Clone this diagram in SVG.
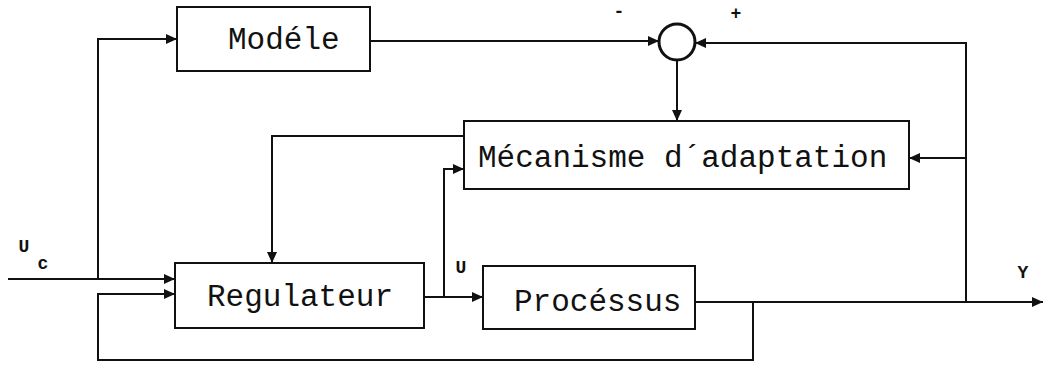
<svg xmlns="http://www.w3.org/2000/svg" width="1044" height="366" viewBox="0 0 1044 366">
<style>
.box{fill:none;stroke:#111;stroke-width:2}
.ln{fill:none;stroke:#111;stroke-width:2;marker-end:url(#ah)}
.t{font-family:"Liberation Mono","DejaVu Sans Mono",monospace;font-size:31px;fill:#111}
.lb{font-family:"Liberation Mono","DejaVu Sans Mono",monospace;font-size:18px;font-weight:bold;fill:#111}
</style>
<defs>
<marker id="ah" markerUnits="userSpaceOnUse" markerWidth="12" markerHeight="10" refX="11" refY="5" orient="auto">
<path d="M0,0 L11,5 L0,10 z" fill="#111"/>
</marker>
</defs>
<rect width="1044" height="366" fill="#fff"/>
<g id="connectors">
<path class="ln" d="M8,279 H175"/>
<path class="ln" d="M98,279 V39 H177"/>
<path class="ln" d="M370,41 H659"/>
<path class="ln" d="M966,302 V43 H695"/>
<path class="ln" d="M677,60 V121"/>
<path class="ln" d="M966,158 H909"/>
<path class="ln" d="M464,136 H272 V263"/>
<path class="ln" d="M424,297 H483"/>
<path class="ln" d="M444,297 V169 H464"/>
<path class="ln" d="M695,302 H1043"/>
<path class="ln" d="M753,302 V360 H98 V294 H175"/>
</g>
<g id="modele">
<rect class="box" x="177" y="7" width="193" height="64"/>
<text class="t" x="228" y="49">Modéle</text>
</g>
<g id="comparateur">
<circle cx="677" cy="42" r="18" fill="#fff" stroke="#111" stroke-width="3"/>
<text class="lb" x="619" y="17" text-anchor="middle">-</text>
<text class="lb" x="736" y="19" text-anchor="middle">+</text>
</g>
<g id="mecanisme">
<rect class="box" x="464" y="121" width="445" height="68"/>
<text class="t" x="478" y="167">Mécanisme d´adaptation</text>
</g>
<g id="regulateur">
<rect class="box" x="175" y="263" width="249" height="65"/>
<text class="t" x="207" y="306">Regulateur</text>
</g>
<g id="processus">
<rect class="box" x="483" y="266" width="212" height="63"/>
<text class="t" x="514" y="311">Procéssus</text>
</g>
<g id="labels">
<text class="lb" x="24" y="252" text-anchor="middle">U</text>
<text class="lb" x="43" y="269" text-anchor="middle">c</text>
<text class="lb" x="461" y="273" text-anchor="middle">U</text>
<text class="lb" x="1023" y="278" text-anchor="middle">Y</text>
</g>
</svg>
